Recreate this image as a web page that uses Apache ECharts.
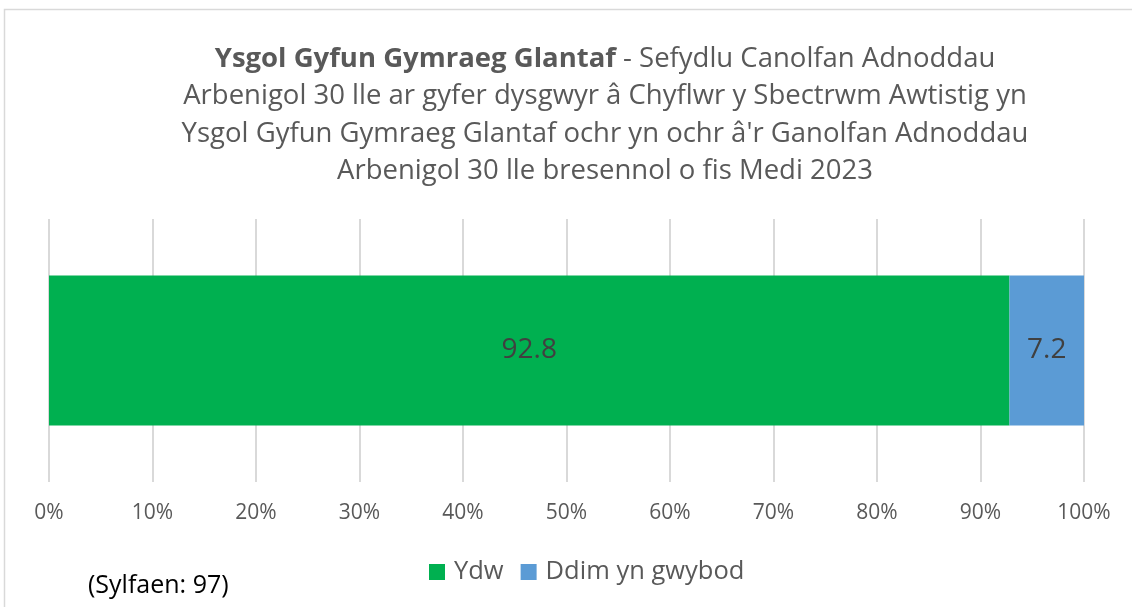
<!DOCTYPE html>
<html>
<head>
<meta charset="utf-8">
<title>Ysgol Gyfun Gymraeg Glantaf</title>
<script src="https://cdn.jsdelivr.net/npm/echarts@6/dist/echarts.min.js"></script>
<style>
  html, body { margin: 0; padding: 0; background: #fff; }
  #chart { width: 1132px; height: 607px; }
</style>
</head>
<body>
<div id="chart"></div>
<script>
    // data
    var categories = ['Glantaf'];
    var seriesNames = ['Ydw', 'Ddim yn gwybod'];
    var ydwValues = [92.8];
    var ddimValues = [7.2];
    var tickLabels = ['0%', '10%', '20%', '30%', '40%', '50%', '60%', '70%', '80%', '90%', '100%'];
    var baseNote = '(Sylfaen: 97)';

    var FONT = '"Open Sans", sans-serif';

    var myChart = echarts.init(document.getElementById('chart'));

    var option = {
        backgroundColor: '#fff',
        textStyle: { fontFamily: FONT },
        title: {
            left: 600,
            top: 35,
            textAlign: 'center',
            text: '{b|Ysgol Gyfun Gymraeg Glantaf}{n| - Sefydlu Canolfan Adnoddau}\n' +
                  '{n|Arbenigol 30 lle ar gyfer dysgwyr â Chyflwr y Sbectrwm Awtistig yn}\n' +
                  '{n|Ysgol Gyfun Gymraeg Glantaf ochr yn ochr â\'r Ganolfan Adnoddau}\n' +
                  '{n|Arbenigol 30 lle bresennol o fis Medi 2023}',
            textStyle: {
                fontWeight: 'normal',
                rich: {
                    b: { fontFamily: FONT, fontSize: 27.5, fontWeight: 'bold', color: '#595959', lineHeight: 37.5 },
                    n: { fontFamily: FONT, fontSize: 27.5, fontWeight: 'normal', color: '#595959', lineHeight: 37.5 }
                }
            }
        },
        legend: {
            left: 424,
            top: 554,
            icon: 'rect',
            itemWidth: 16,
            itemHeight: 16,
            itemGap: 17,
            textStyle: { fontFamily: FONT, fontSize: 25.5, color: '#595959', padding: [0, 0, 0, 4] },
            data: seriesNames
        },
        graphic: [
            {
                type: 'rect',
                silent: true,
                shape: { x: 4.5, y: 9.5, width: 1140, height: 620 },
                style: { fill: 'none', stroke: '#d9d9d9', lineWidth: 1.5 }
            },
            {
                type: 'text',
                left: 88,
                top: 573,
                style: { text: baseNote, font: '25px ' + FONT, fill: '#000' }
            }
        ],
        grid: { left: 49, right: 48, top: 219, bottom: 125 },
        xAxis: {
            type: 'value',
            min: 0,
            max: 100,
            interval: 10,
            axisLine: { show: false },
            axisTick: { show: false },
            axisLabel: {
                margin: 21,
                fontSize: 21,
                color: '#595959',
                fontFamily: FONT,
                formatter: function (v) { return tickLabels[Math.round(v / 10)]; }
            },
            splitLine: { lineStyle: { color: '#d9d9d9', width: 2 } }
        },
        yAxis: {
            type: 'category',
            data: categories,
            axisLine: { show: false },
            axisTick: { show: false },
            axisLabel: { show: false }
        },
        series: [
            {
                name: seriesNames[0],
                type: 'bar',
                stack: 'total',
                barWidth: 150,
                itemStyle: { color: '#00B050' },
                label: { show: true, position: 'inside', fontSize: 28, color: '#404040', fontFamily: FONT },
                data: ydwValues
            },
            {
                name: seriesNames[1],
                type: 'bar',
                stack: 'total',
                barWidth: 150,
                itemStyle: { color: '#5B9BD5' },
                label: { show: true, position: 'inside', fontSize: 28, color: '#404040', fontFamily: FONT },
                data: ddimValues
            }
        ]
    };

    myChart.setOption(option);
</script>
</body>
</html>
